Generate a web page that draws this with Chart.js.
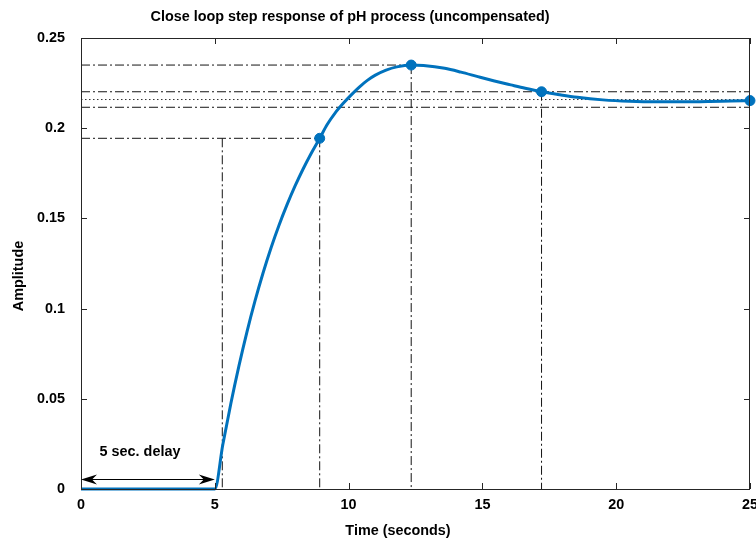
<!DOCTYPE html>
<html>
<head>
<meta charset="utf-8">
<script src="https://cdn.jsdelivr.net/npm/chart.js@4/dist/chart.umd.min.js"></script>
<style>
  html, body { margin: 0; padding: 0; background: #fff; }
  #wrap { width: 756px; height: 539px; position: relative; }
</style>
</head>
<body>
<div id="wrap"><canvas id="c" width="756" height="539"></canvas></div>
<script>
// ---- data ----
const time = [0, 5.0, 5.3, 5.6, 5.9, 6.2, 6.5, 6.8, 7.1, 7.4, 7.7, 8.0, 8.3, 8.6, 8.92, 9.2, 9.5, 9.8, 10.1, 10.4, 10.7, 11.0, 11.4, 11.8, 12.34, 12.8, 13.59, 14.2, 14.83, 15.45, 16.06, 16.6, 17.21, 17.9, 18.55, 19.5, 20.5, 21.5, 22.5, 23.5, 24.3, 25];
const amplitude = [0, 0, 0.0247, 0.0474, 0.0681, 0.0870, 0.1041, 0.1196, 0.1336, 0.1462, 0.1576, 0.1680, 0.1774, 0.1860, 0.1944, 0.2020, 0.2085, 0.2138, 0.2185, 0.2228, 0.2265, 0.2294, 0.2322, 0.2340, 0.2350, 0.2347, 0.2332, 0.2311, 0.2286, 0.2262, 0.2240, 0.2221, 0.2202, 0.2185, 0.2171, 0.2157, 0.2149, 0.2146, 0.2146, 0.2148, 0.2151, 0.2153];

const markerTime = [8.92, 12.34, 17.21, 25];
const markerAmp = [0.1944, 0.235, 0.2202, 0.2153];

// horizontal dash-dot characteristic lines: level, end time
const hLineLevel = [0.1944, 0.235, 0.2202, 0.2116];
const hLineEnd = [8.92, 12.34, 25, 25];
// vertical dash-dot lines: time, top level
const vLineTime = [5.28, 8.92, 12.34, 17.21];
const vLineTop = [0.1944, 0.1944, 0.235, 0.2202];
// dotted final-value line
const finalValue = 0.2159;

const xTicks = [0, 5, 10, 15, 20, 25];
const yTicks = [0, 0.05, 0.1, 0.15, 0.2, 0.25];
const yTickLabels = ['0', '0.05', '0.1', '0.15', '0.2', '0.25'];

const titleText = 'Close loop step response of pH process (uncompensated)';
const xTitle = 'Time (seconds)';
const yTitle = 'Amplitude';
const delayText = '5 sec. delay';
const delayArrow = [0, 5];      // time span of arrow
const delayArrowLevel = 0.0055; // amplitude level of arrow

// ---- build datasets ----
const FONT = 'bold 14.4px "Liberation Sans", Arial, sans-serif';
const BLUE = '#0072BD';
const REF = '#141414';
const dashDot = [9, 3, 2, 3];

const datasets = [];
datasets.push({
  label: 'markers',
  data: markerTime.map((t, i) => ({ x: t, y: markerAmp[i] })),
  showLine: false, pointRadius: 5, pointHoverRadius: 5,
  pointBackgroundColor: BLUE, pointBorderColor: BLUE, clip: false
});
datasets.push({
  label: 'response',
  data: time.map((t, i) => ({ x: t, y: amplitude[i] })),
  borderColor: BLUE, borderWidth: 3, pointRadius: 0,
  cubicInterpolationMode: 'monotone', clip: false
});
hLineLevel.forEach((lv, i) => datasets.push({
  label: 'h' + i,
  data: [{ x: 0, y: lv }, { x: hLineEnd[i], y: lv }],
  borderColor: REF, borderWidth: 1, borderDash: dashDot, pointRadius: 0
}));
vLineTime.forEach((t, i) => datasets.push({
  label: 'v' + i,
  data: [{ x: t, y: vLineTop[i] }, { x: t, y: 0 }],
  borderColor: REF, borderWidth: 1, borderDash: dashDot, pointRadius: 0
}));
datasets.push({
  label: 'final',
  data: [{ x: 0, y: finalValue }, { x: 25, y: finalValue }],
  borderColor: '#333', borderWidth: 1, borderDash: [1.5, 2.5], pointRadius: 0
});

const decor = {
  id: 'decor',
  afterDraw(chart) {
    const ctx = chart.ctx;
    const a = chart.chartArea;
    const xs = chart.scales.x, ys = chart.scales.y;
    ctx.save();
    // box
    ctx.strokeStyle = '#262626';
    ctx.lineWidth = 1;
    ctx.setLineDash([]);
    ctx.strokeRect(Math.round(a.left) + 0.5, Math.round(a.top) + 0.5,
                   Math.round(a.right - a.left) - 1, Math.round(a.bottom - a.top));
    // inward ticks
    const tl = 6;
    ctx.beginPath();
    xTicks.forEach(v => {
      const px = Math.round(xs.getPixelForValue(v)) + 0.5;
      ctx.moveTo(px, a.bottom); ctx.lineTo(px, a.bottom - tl);
      ctx.moveTo(px, a.top); ctx.lineTo(px, a.top + tl);
    });
    yTicks.forEach(v => {
      const py = Math.round(ys.getPixelForValue(v)) + 0.5;
      ctx.moveTo(a.left, py); ctx.lineTo(a.left + tl, py);
      ctx.moveTo(a.right, py); ctx.lineTo(a.right - tl, py);
    });
    ctx.stroke();

    // delay arrow
    const x0 = xs.getPixelForValue(delayArrow[0]);
    const x1 = xs.getPixelForValue(delayArrow[1]);
    const ay = Math.round(ys.getPixelForValue(delayArrowLevel)) + 0.5;
    ctx.strokeStyle = '#000';
    ctx.fillStyle = '#000';
    ctx.beginPath(); ctx.moveTo(x0 + 4, ay); ctx.lineTo(x1 - 4, ay); ctx.stroke();
    const head = (tip, dir) => {
      const L = 16, W = 5, N = 11;
      ctx.beginPath();
      ctx.moveTo(tip, ay);
      ctx.lineTo(tip + dir * L, ay - W);
      ctx.lineTo(tip + dir * N, ay);
      ctx.lineTo(tip + dir * L, ay + W);
      ctx.closePath();
      ctx.fill();
    };
    head(x0, 1);
    head(x1, -1);

    // texts
    ctx.font = FONT;
    ctx.fillStyle = '#000';
    ctx.textAlign = 'center';
    ctx.textBaseline = 'middle';
    ctx.fillText(titleText, 350, 17);
    ctx.fillText(xTitle, 398, 531);
    ctx.fillText(delayText, 140, 452);
    ctx.save();
    ctx.translate(19, 276);
    ctx.rotate(-Math.PI / 2);
    ctx.fillText(yTitle, 0, 0);
    ctx.restore();
    ctx.restore();
  }
};

new Chart(document.getElementById('c'), {
  type: 'line',
  data: { datasets },
  options: {
    responsive: false,
    animation: false,
    devicePixelRatio: 1,
    layout: { padding: { top: 38, right: 3, left: 0, bottom: 0 } },
    plugins: { legend: { display: false }, tooltip: { enabled: false }, title: { display: false } },
    scales: {
      x: {
        type: 'linear', min: 0, max: 25,
        afterBuildTicks: s => { s.ticks = xTicks.map(v => ({ value: v })); },
        ticks: { font: { family: '"Liberation Sans", Arial, sans-serif', size: 14.4, weight: 'bold' },
                 color: '#000', padding: 7, maxRotation: 0, autoSkip: false },
        grid: { display: false, drawTicks: false },
        border: { display: false },
        afterFit: s => { s.height = 50; s.paddingLeft = 0; s.paddingRight = 0; }
      },
      y: {
        type: 'linear', min: 0, max: 0.25,
        afterBuildTicks: s => { s.ticks = yTicks.map(v => ({ value: v })); },
        ticks: { font: { family: '"Liberation Sans", Arial, sans-serif', size: 14.4, weight: 'bold' },
                 color: '#000', padding: 16,
                 callback: (v) => { const i = yTicks.findIndex(t => Math.abs(t - v) < 1e-9); return i >= 0 ? yTickLabels[i] : ''; } },
        grid: { display: false, drawTicks: false },
        border: { display: false },
        afterFit: s => { s.width = 81; s.paddingTop = 0; s.paddingBottom = 0; }
      }
    }
  },
  plugins: [decor]
});
</script>
</body>
</html>
